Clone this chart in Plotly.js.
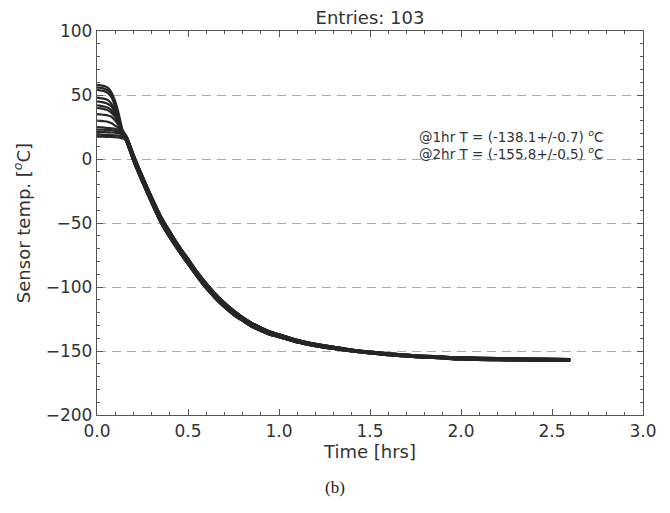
<!DOCTYPE html>
<html><head><meta charset="utf-8">
<script src="https://cdn.plot.ly/plotly-3.0.1.min.js"></script>
<style>html,body{margin:0;padding:0;background:#fff}#chart{width:670px;height:513px}</style>
</head><body><div id="chart"></div>
<script>
// time grid [hrs] for the warm start phase and for the shared cool-down phase
const tHead = [0, 0.02, 0.04, 0.06, 0.08, 0.10, 0.12, 0.14];
const tTail = [0.16,0.18,0.20,0.25,0.30,0.35,0.40,0.45,0.50,0.55,0.60,0.65,0.70,0.75,0.80,0.85,0.90,0.95,1.00,1.10,1.20,1.30,1.40,1.50,1.60,1.70,1.80,1.90,2.00,2.20,2.40,2.60];

// start phase of individual sensors [°C]
const sensorA = [58, 57.5, 57, 55.5, 52, 45, 35, 23];
const sensorB = [56, 55.5, 55, 53.5, 50, 43, 33, 22];
const sensorC = [54, 53.5, 53, 51.5, 48, 41, 32, 22];
const sensorD = [48, 47.5, 47, 46, 43, 38, 30, 22];
const sensorE = [45, 44.5, 44, 43, 41, 36, 29, 21];
const sensorF = [42, 41.5, 41, 40, 38, 34, 28, 21];
const sensorG = [40, 39.5, 39, 38, 36, 33, 27, 21];
const sensorH = [35, 34.8, 34.5, 34, 33, 30, 26, 20];
const sensorI = [30, 29.8, 29.5, 29, 28, 26, 24, 20];
const sensorJ = [25, 24.8, 24.5, 24.2, 24, 23.5, 22.5, 20];
const sensorK = [23, 23, 22.8, 22.6, 22.5, 22, 21.5, 20];
const sensorL = [21, 21, 21, 20.8, 20.7, 20.5, 20.2, 19];
const sensorM = [19, 19, 18.8, 18.8, 18.7, 18.5, 18.2, 17.5];
const sensorN = [17.5, 17.5, 17.4, 17.3, 17.2, 17.0, 16.8, 16];

// cool-down phase: upper edge, middle and lower edge of the band [°C]
const tailHi  = [18,11.5,3.5,-13.5,-29.5,-44.5,-56.5,-67.8,-77.8,-88,-97,-105.1,-112.2,-118.3,-123.5,-128,-131.7,-134.8,-137.0,-141.3,-144.4,-146.8,-148.9,-150.5,-151.9,-152.9,-153.7,-154.4,-155.0,-155.6,-156.0,-156.3];
const tailMid = [16,9,1,-16,-32,-47,-59,-70,-80,-90,-99,-107,-114,-120,-125,-129.5,-133,-136,-138.1,-142.3,-145.3,-147.6,-149.6,-151.2,-152.6,-153.6,-154.4,-155.1,-155.8,-156.4,-156.8,-157.0];
const tailLo  = [14,6.5,-1.5,-18.5,-34.5,-49.5,-61.5,-72.2,-82.2,-92,-101,-108.9,-115.8,-121.7,-126.5,-131,-134.3,-137.2,-139.2,-143.3,-146.2,-148.4,-150.3,-151.9,-153.3,-154.3,-155.1,-155.8,-156.6,-157.2,-157.6,-157.8];

const sensors = [
  [sensorA, tailHi], [sensorB, tailHi], [sensorC, tailMid], [sensorD, tailMid],
  [sensorE, tailHi], [sensorF, tailMid], [sensorG, tailLo], [sensorH, tailMid],
  [sensorI, tailLo], [sensorJ, tailHi], [sensorK, tailMid], [sensorL, tailLo],
  [sensorM, tailLo], [sensorN, tailMid]
];

const xTicks = [0, 0.5, 1.0, 1.5, 2.0, 2.5, 3.0];
const yTicks = [100, 50, 0, -50, -100, -150, -200];

const x = tHead.concat(tTail);
const traces = sensors.map(([h, tl]) => ({
  type: 'scatter', mode: 'lines', x: x, y: h.concat(tl),
  line: {color: '#262626', width: 2.2, shape: 'spline', smoothing: 0.8},
  hoverinfo: 'skip', showlegend: false
}));

const font = 'DejaVu Sans, sans-serif';
const axisCommon = {
  showline: true, linecolor: '#555', linewidth: 1.2, mirror: 'allticks',
  ticks: 'inside', ticklen: 6, tickwidth: 1, tickcolor: '#555',
  zeroline: false, tickfont: {family: font, size: 17, color: '#333'}
};

const layout = {
  width: 670, height: 513,
  margin: {l: 97, r: 27, t: 31, b: 98},
  paper_bgcolor: '#fff', plot_bgcolor: '#fff',
  title: {text: 'Entries: 103', font: {family: font, size: 18, color: '#333'},
          x: 0.5, xref: 'paper', y: 1 - 18/513, yref: 'container', yanchor: 'middle'},
  xaxis: Object.assign({}, axisCommon, {
    range: [0, 3], tickmode: 'array', tickvals: xTicks, ticktext: xTicks.map(v => v.toFixed(1)),
    showgrid: false,
    minor: {ticks: 'inside', ticklen: 3, tickcolor: '#555', dtick: 0.1, tick0: 0, showgrid: false},
    title: {text: 'Time [hrs]', font: {family: font, size: 18, color: '#333'}, standoff: 4}
  }),
  yaxis: Object.assign({}, axisCommon, {
    range: [-200, 100], tickmode: 'array', tickvals: yTicks,
    showgrid: true, gridcolor: '#aaa', gridwidth: 1, griddash: '9px,6px',
    minor: {ticks: 'inside', ticklen: 3, tickcolor: '#555', dtick: 10, tick0: 0, showgrid: false},
    title: {text: 'Sensor temp. [<sup><i>o</i></sup>C]', font: {family: font, size: 18, color: '#333'}, standoff: 10}
  }),
  annotations: [
    {text: '@1hr T = (-138.1+/-0.7) <sup><i>o</i></sup>C', xref: 'paper', yref: 'paper',
     x: 0.758, y: 0.727, xanchor: 'center', yanchor: 'middle', showarrow: false,
     font: {family: font, size: 13.5, color: '#333'}},
    {text: '@2hr T = (-155.8+/-0.5) <sup><i>o</i></sup>C', xref: 'paper', yref: 'paper',
     x: 0.758, y: 0.681, xanchor: 'center', yanchor: 'middle', showarrow: false,
     font: {family: font, size: 13.5, color: '#333'}},
    {text: '(b)', xref: 'paper', yref: 'paper', x: 0.436, y: -0.1875, xanchor: 'center', yanchor: 'middle',
     showarrow: false, font: {family: 'Liberation Serif, serif', size: 17, color: '#222'}}
  ]
};

Plotly.newPlot('chart', traces, layout, {staticPlot: true, displayModeBar: false});
</script></body></html>
